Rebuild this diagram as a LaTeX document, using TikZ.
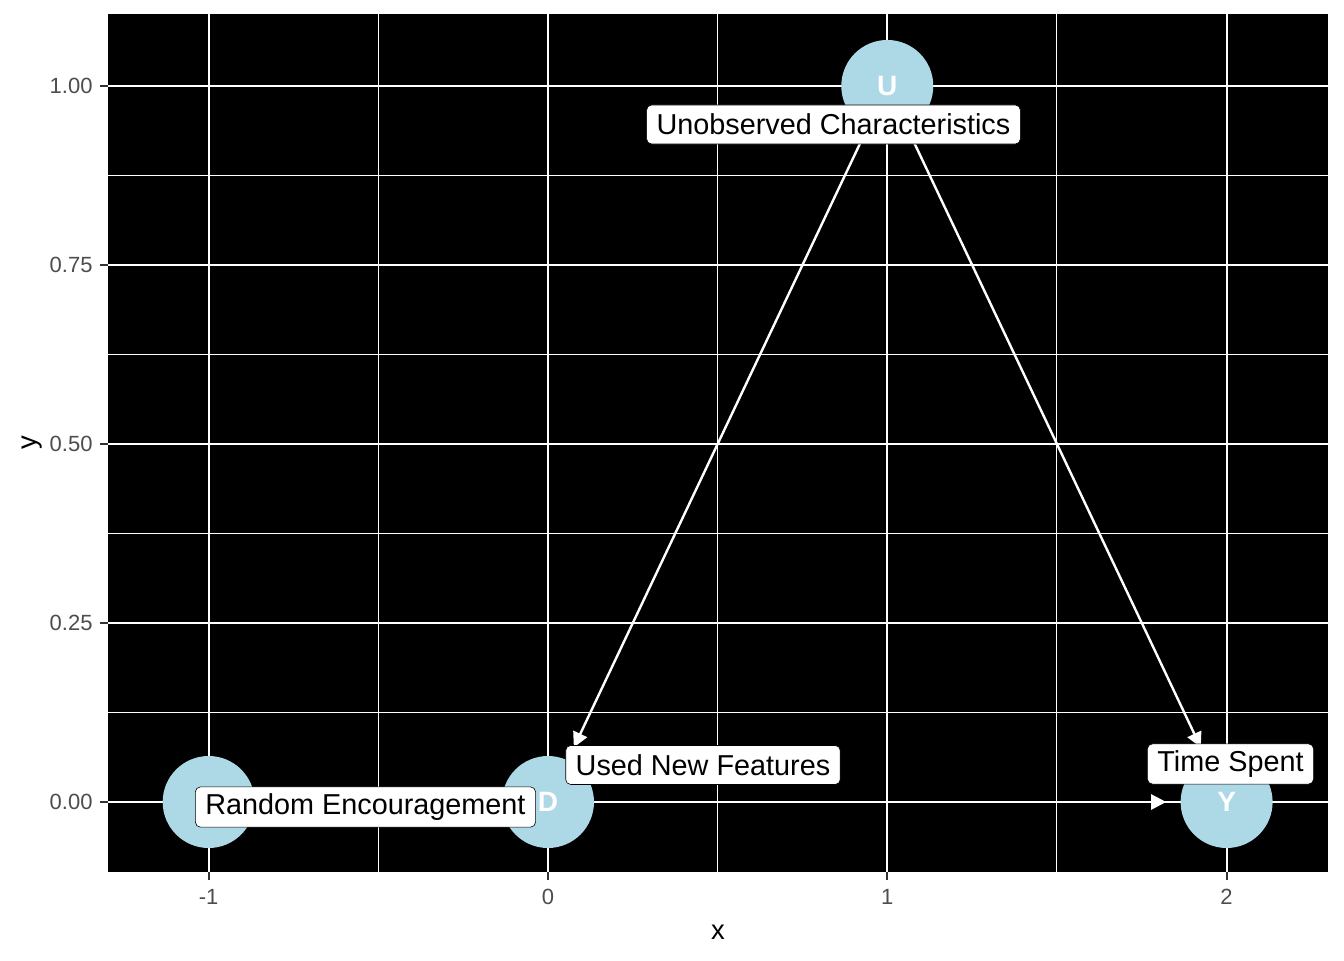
\documentclass[tikz,border=0pt]{standalone}
\usepackage{fontspec}
\setmainfont{Liberation Sans}
\usetikzlibrary{arrows.meta,positioning}
\definecolor{nodeblue}{RGB}{173,216,230}
\definecolor{tickgray}{RGB}{77,77,77}
\definecolor{tickline}{RGB}{51,51,51}
\tikzstyle{dagnode} = [circle, fill=nodeblue, minimum size=46pt, inner sep=0pt, text=white, font=\fontsize{14}{14}\selectfont\bfseries]
\tikzstyle{daglabel} = [rectangle, draw=black, line width=0.3pt, fill=white, rounded corners=2.5pt, inner xsep=5pt, minimum height=19.5pt, font=\fontsize{14.4}{14.4}\selectfont]
\tikzstyle{dagedge} = [draw=white, line width=1.2pt, -{Triangle[length=7.5pt,width=7.5pt]}, shorten <=8pt, shorten >=7pt]
\tikzstyle{majorgrid} = [white, line width=1pt]
\tikzstyle{minorgrid} = [white, line width=0.5pt]
\tikzstyle{tickmark} = [tickline, line width=1pt]
\tikzstyle{ticklabel} = [text=tickgray, font=\fontsize{11}{11}\selectfont, inner sep=0pt]
\tikzstyle{axistitle} = [font=\fontsize{13.7}{13.7}\selectfont, inner sep=0pt]
\begin{document}
\begin{tikzpicture}[x=169.65pt, y=358pt]
    \useasboundingbox (-1.615,-0.2207) rectangle (2.346,1.1201);
    % panel
    \fill[black] (-1.2968,-0.0978) rectangle (2.2989,1.1006);
    \draw[minorgrid] (-0.5,-0.0978) -- (-0.5,1.1006) (0.5,-0.0978) -- (0.5,1.1006) (1.5,-0.0978) -- (1.5,1.1006);
    \draw[minorgrid] (-1.2968,0.125) -- (2.2989,0.125) (-1.2968,0.375) -- (2.2989,0.375) (-1.2968,0.625) -- (2.2989,0.625) (-1.2968,0.875) -- (2.2989,0.875);
    \draw[majorgrid] (-1,-0.0978) -- (-1,1.1006) (0,-0.0978) -- (0,1.1006) (1,-0.0978) -- (1,1.1006) (2,-0.0978) -- (2,1.1006);
    \draw[majorgrid] (-1.2968,0) -- (2.2989,0) (-1.2968,0.25) -- (2.2989,0.25) (-1.2968,0.5) -- (2.2989,0.5) (-1.2968,0.75) -- (2.2989,0.75) (-1.2968,1) -- (2.2989,1);
    % ticks
    \draw[tickmark] (-1,-0.0978) -- ++(0,-4pt) (0,-0.0978) -- ++(0,-4pt) (1,-0.0978) -- ++(0,-4pt) (2,-0.0978) -- ++(0,-4pt);
    \draw[tickmark] (-1.2968,0) -- ++(-4pt,0) (-1.2968,0.25) -- ++(-4pt,0) (-1.2968,0.5) -- ++(-4pt,0) (-1.2968,0.75) -- ++(-4pt,0) (-1.2968,1) -- ++(-4pt,0);
    \node[ticklabel] (xm1) at (-1,-0.1327) {-1};
    \node[ticklabel] (x0) at (0,-0.1327) {0};
    \node[ticklabel] (x1) at (1,-0.1327) {1};
    \node[ticklabel] (x2) at (2,-0.1327) {2};
    \node[ticklabel, anchor=east] (y000) at (-1.341,0) {0.00};
    \node[ticklabel, anchor=east] (y025) at (-1.341,0.25) {0.25};
    \node[ticklabel, anchor=east] (y050) at (-1.341,0.5) {0.50};
    \node[ticklabel, anchor=east] (y075) at (-1.341,0.75) {0.75};
    \node[ticklabel, anchor=east] (y100) at (-1.341,1) {1.00};
    \node[axistitle] (xtitle) at (0.501,-0.1816) {x};
    \node[axistitle, rotate=90] (ytitle) at (-1.5208,0.5014) {y};
    % dag
    \node[dagnode] (z) at (-1,0) {};
    \node[dagnode] (d) at (0,0) {D};
    \node[dagnode] (u) at (1,1) {U};
    \node[dagnode] (y) at (2,0) {Y};
    \path[dagedge] (u) -- (d);
    \path[dagedge] (u) -- (y);
    \path[dagedge] (d) -- (y);
    \node[daglabel] (zlab) at (-0.5379,-0.007) {Random Encouragement};
    \node[daglabel] (dlab) at (0.4568,0.0517) {Used New Features};
    \node[daglabel] (ulab) at (0.8414,0.9462) {Unobserved Characteristics};
    \node[daglabel] (ylab) at (2.0115,0.0531) {Time Spent};
\end{tikzpicture}
\end{document}
